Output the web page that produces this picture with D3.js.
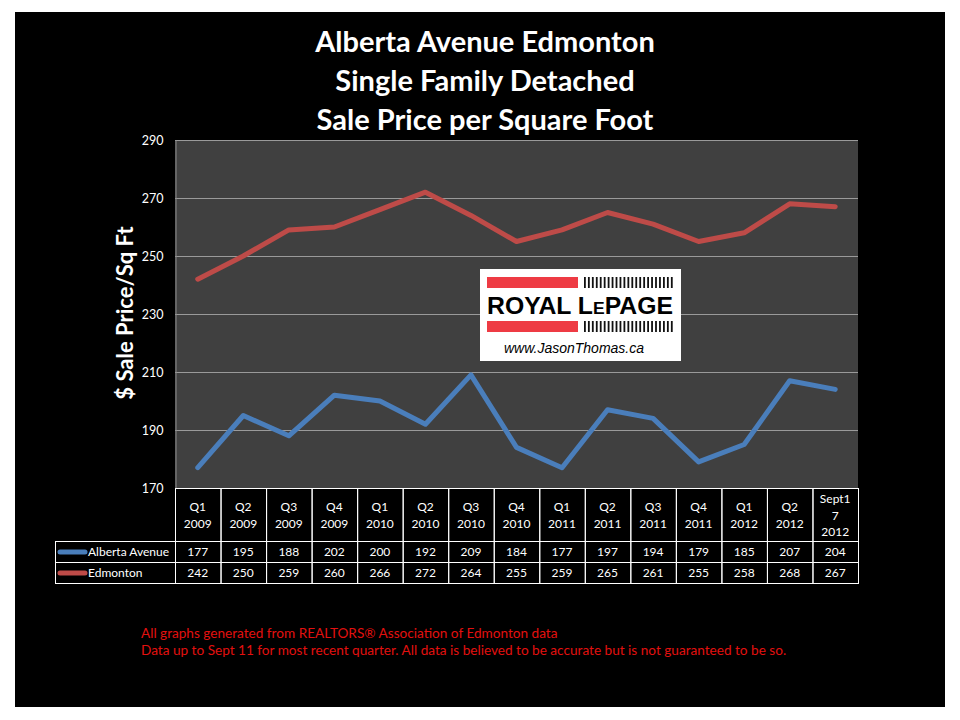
<!DOCTYPE html>
<html>
<head>
<meta charset="utf-8">
<script src="https://cdn.jsdelivr.net/npm/d3@7"></script>
<style>
  body { margin: 0; background: #fff; }
  svg { display: block; font-family: Lato, "Open Sans", sans-serif; }
</style>
</head>
<body>
<div id="chart"></div>
<script>
(function(){
// Chart data
const categories = [
    ["Q1", "2009"], ["Q2", "2009"], ["Q3", "2009"], ["Q4", "2009"],
    ["Q1", "2010"], ["Q2", "2010"], ["Q3", "2010"], ["Q4", "2010"],
    ["Q1", "2011"], ["Q2", "2011"], ["Q3", "2011"], ["Q4", "2011"],
    ["Q1", "2012"], ["Q2", "2012"], ["Sept1", "7", "2012"]
];
const albertaAvenue = [177, 195, 188, 202, 200, 192, 209, 184, 177, 197, 194, 179, 185, 207, 204];
const edmonton = [242, 250, 259, 260, 266, 272, 264, 255, 259, 265, 261, 255, 258, 268, 267];
const yTicks = [170, 190, 210, 230, 250, 270, 290];
const titleLines = ["Alberta Avenue Edmonton", "Single Family Detached", "Sale Price per Square Foot"];
const footerLines = [
    "All graphs generated from REALTORS\u00AE Association of Edmonton data",
    "Data up to Sept 11  for most recent quarter. All data is believed to be accurate but is not guaranteed to be so."
];

const series = [
    { name: "Alberta Avenue", values: albertaAvenue, color: "#4a7ebb" },
    { name: "Edmonton", values: edmonton, color: "#be4b48" }
];

const width = 960, height = 720;
const plot = { left: 175, right: 858, top: 140, bottom: 488 };
const small = 12;

const svg = d3.select("#chart").append("svg")
    .attr("width", width)
    .attr("height", height);

// black slide background inside white border
svg.append("rect")
    .attr("x", 15).attr("y", 12)
    .attr("width", 930).attr("height", 695)
    .attr("fill", "#000");

// Title
svg.append("g").selectAll("text")
    .data(titleLines)
    .join("text")
    .attr("x", 485)
    .attr("y", (d, i) => 52 + i * 39)
    .attr("text-anchor", "middle")
    .attr("fill", "#fff")
    .attr("font-size", 29)
    .attr("font-weight", "bold")
    .text(d => d);

const catIndex = d3.range(categories.length);
const x = d3.scaleBand().domain(catIndex).range([plot.left, plot.right]);
const y = d3.scaleLinear().domain([170, 290]).range([plot.bottom, plot.top]);

// plot area
svg.append("rect")
    .attr("x", plot.left).attr("y", plot.top)
    .attr("width", plot.right - plot.left)
    .attr("height", plot.bottom - plot.top)
    .attr("fill", "#404040");

// gridlines
svg.append("g").selectAll("line")
    .data(yTicks.filter(t => t > 170))
    .join("line")
    .attr("x1", plot.left).attr("x2", plot.right)
    .attr("y1", d => Math.round(y(d)) + 0.5)
    .attr("y2", d => Math.round(y(d)) + 0.5)
    .attr("stroke", "#9a9a9a")
    .attr("stroke-width", 1);

// y axis
const yAxis = svg.append("g")
    .attr("transform", `translate(${plot.left + 0.5},0)`)
    .call(d3.axisLeft(y).tickValues(yTicks).tickSize(0).tickPadding(12));
yAxis.select(".domain").attr("stroke", "#8a8a8a");
yAxis.selectAll("text")
    .attr("fill", "#fff")
    .attr("font-size", small + 0.5)
    .attr("font-family", "Lato, sans-serif");

svg.append("text")
    .attr("transform", "translate(133,313) rotate(-90)")
    .attr("text-anchor", "middle")
    .attr("fill", "#fff")
    .attr("font-size", 22)
    .attr("font-weight", "bold")
    .text("$ Sale Price/Sq Ft");

// lines
const line = d3.line()
    .x((d, i) => x(i) + x.bandwidth() / 2)
    .y(d => y(d));

svg.append("g").selectAll("path")
    .data(series)
    .join("path")
    .attr("d", d => line(d.values))
    .attr("fill", "none")
    .attr("stroke", d => d.color)
    .attr("stroke-width", 5)
    .attr("stroke-linecap", "round")
    .attr("stroke-linejoin", "round");

// logo
const logo = svg.append("g");
logo.append("rect")
    .attr("x", 480).attr("y", 269)
    .attr("width", 201).attr("height", 92)
    .attr("fill", "#fff");
[277, 321].forEach(yy => {
    logo.append("rect")
        .attr("x", 487).attr("y", yy)
        .attr("width", 91).attr("height", 11)
        .attr("fill", "#ee3b44");
    logo.append("g").selectAll("rect")
        .data(d3.range(23))
        .join("rect")
        .attr("x", i => 584 + i * 3.95)
        .attr("y", yy)
        .attr("width", 1.8)
        .attr("height", 11)
        .attr("fill", "#111");
});
const brand = logo.append("text")
    .attr("x", 487).attr("y", 314)
    .attr("fill", "#000")
    .attr("font-size", 24)
    .attr("font-weight", "900")
    .attr("font-family", "'Liberation Sans', Arial, sans-serif")
    .attr("textLength", 186)
    .attr("lengthAdjust", "spacingAndGlyphs");
brand.append("tspan").text("ROYAL L");
brand.append("tspan").attr("font-size", 17).text("E");
brand.append("tspan").text("PAGE");
logo.append("text")
    .attr("x", 574).attr("y", 353)
    .attr("text-anchor", "middle")
    .attr("fill", "#000")
    .attr("font-size", 14)
    .attr("font-style", "italic")
    .attr("font-family", "'Liberation Sans', Arial, sans-serif")
    .text("www.JasonThomas.ca");

// data table
const headerTop = plot.bottom, headerH = 53, rowH = 21;
const table = svg.append("g").attr("fill", "none").attr("stroke", "#fff").attr("stroke-width", 1);

table.selectAll("rect.head")
    .data(catIndex)
    .join("rect")
    .attr("class", "head")
    .attr("x", i => x(i) + 0.5)
    .attr("y", headerTop + 0.5)
    .attr("width", x.bandwidth())
    .attr("height", headerH);

series.forEach((s, r) => {
    const ry = headerTop + headerH + r * rowH;
    table.append("rect")
        .attr("x", 55.5).attr("y", ry + 0.5)
        .attr("width", plot.left - 55).attr("height", rowH);
    table.selectAll(`rect.row${r}`)
        .data(catIndex)
        .join("rect")
        .attr("class", `row${r}`)
        .attr("x", i => x(i) + 0.5)
        .attr("y", ry + 0.5)
        .attr("width", x.bandwidth())
        .attr("height", rowH);

    // legend swatch and name
    svg.append("line")
        .attr("x1", 60).attr("x2", 85)
        .attr("y1", ry + 11).attr("y2", ry + 11)
        .attr("stroke", s.color)
        .attr("stroke-width", 5)
        .attr("stroke-linecap", "round");
    svg.append("text")
        .attr("x", 88).attr("y", ry + 15)
        .attr("fill", "#fff")
        .attr("font-size", small)
        .text(s.name);

    svg.append("g").selectAll("text")
        .data(s.values)
        .join("text")
        .attr("x", (d, i) => x(i) + x.bandwidth() / 2)
        .attr("y", ry + 15)
        .attr("text-anchor", "middle")
        .attr("fill", "#fff")
        .attr("font-size", small)
        .text(d => d);
});

// header labels
const head = svg.append("g").selectAll("text")
    .data(categories)
    .join("text")
    .attr("text-anchor", "middle")
    .attr("fill", "#fff")
    .attr("font-size", small);
head.each(function(lines, i) {
    const cx = x(i) + x.bandwidth() / 2;
    const start = lines.length === 3 ? 503 : 511;
    d3.select(this).selectAll("tspan")
        .data(lines)
        .join("tspan")
        .attr("x", cx)
        .attr("y", (d, j) => start + j * 16.5)
        .text(d => d);
});

// footer
svg.append("g").selectAll("text")
    .data(footerLines)
    .join("text")
    .attr("x", 141)
    .attr("y", (d, i) => 638 + i * 17)
    .attr("fill", "#e3100f")
    .attr("font-size", 13.6)
    .text(d => d);
})();
</script>
</body>
</html>
